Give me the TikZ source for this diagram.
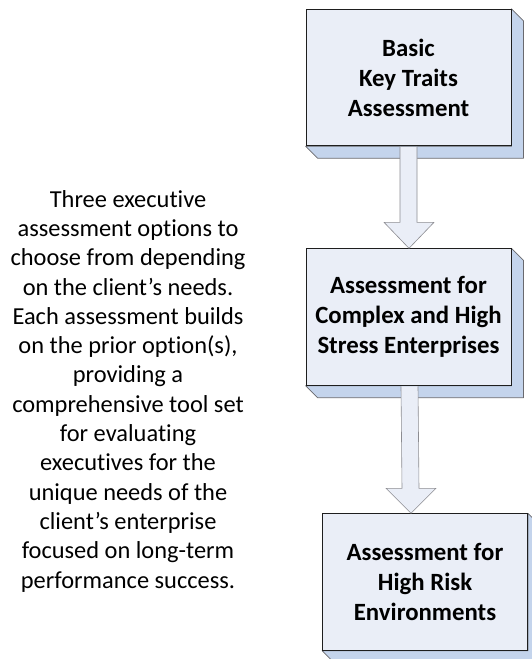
\documentclass[tikz,border=0pt]{standalone}
\usepackage{fontspec}
\setmainfont[Ligatures=NoCommon]{Carlito}
\usetikzlibrary{calc,backgrounds}
\definecolor{face}{RGB}{234,238,247}
\definecolor{side}{RGB}{196,212,236}
\definecolor{edge}{RGB}{30,30,30}
\definecolor{sideedge}{RGB}{105,105,110}
\definecolor{arrowedge}{RGB}{140,140,145}
\begin{document}
\begin{tikzpicture}[x=1pt,y=-1pt,
  stepbox/.style={draw=edge, line width=0.9pt, fill=face, minimum width=205pt,
    minimum height=136.5pt, inner sep=0pt, align=center,
    font=\fontsize{24.8}{30}\selectfont\bfseries},
  depthface/.style={fill=side, draw=sideedge, line width=0.7pt, line join=round},
  blockarrow/.style={fill=face, draw=arrowedge, line width=0.6pt, line join=miter},
  note/.style={align=center, inner sep=0pt, font=\fontsize{24.4}{29.3}\selectfont}]
\useasboundingbox (0,0) rectangle (531,659);
\node[stepbox] (b1) at (408.5,77.5) {Basic\\Key Traits\\Assessment};
\node[stepbox] (b2) at (408.5,317) {Assessment for\\Complex and High\\Stress Enterprises};
\node[stepbox] (b3) at (425,582) {Assessment for\\High Risk\\Environments};
\begin{scope}[on background layer]
\foreach \b in {b1,b2,b3}{
  \draw[depthface] (\b.north east) -- ++(12,12) -- ($(\b.south east)+(12,12)$)
    -- ($(\b.south west)+(12,12)$) -- (\b.south west) -- (\b.south east) -- cycle;
}
\end{scope}
% block arrows
\filldraw[blockarrow] ($(b1.south)+(-8.5,0.6)$) -- ($(b1.south |- b2.north)+(-8.5,-26)$)
  -- ($(b1.south |- b2.north)+(-24.5,-26)$) -- ($(b1.south |- b2.north)+(0.5,0)$)
  -- ($(b1.south |- b2.north)+(25.5,-26)$) -- ($(b1.south |- b2.north)+(8.5,-26)$)
  -- ($(b1.south)+(8.5,0.6)$);
\filldraw[blockarrow] ($(b2.south)+(-7.5,0.6)$) -- ($(b2.south |- b3.north)+(-6.5,-25)$)
  -- ($(b2.south |- b3.north)+(-22.5,-25)$) -- ($(b2.south |- b3.north)+(2.5,0)$)
  -- ($(b2.south |- b3.north)+(27.5,-25)$) -- ($(b2.south |- b3.north)+(10.5,-25)$)
  -- ($(b2.south)+(9.5,0.6)$);
\node[note, anchor=base] (txt) at (128,588) {Three executive\\assessment options to\\choose from depending\\on the client’s needs.\\Each assessment builds\\on the prior option(s),\\providing a\\comprehensive tool set\\for evaluating\\executives for the\\unique needs of the\\client’s enterprise\\focused on long-term\\performance success.};
\end{tikzpicture}
\end{document}
